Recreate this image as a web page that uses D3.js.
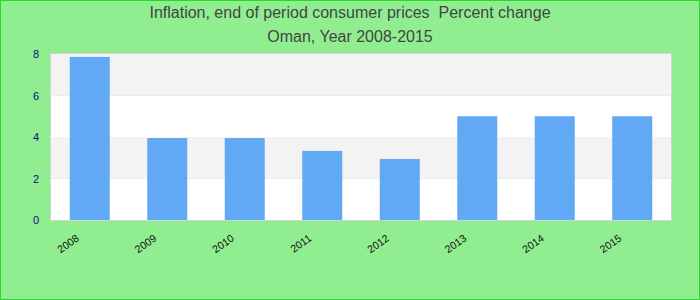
<!DOCTYPE html>
<html>
<head>
<meta charset="utf-8">
<script src="https://cdn.jsdelivr.net/npm/d3@7"></script>
<style>
  body { margin: 0; }
  svg { display: block; font-family: "Liberation Sans", Arial, sans-serif; }
</style>
</head>
<body>
<svg id="graph" width="700" height="300"></svg>
<script>
const years = ["2008", "2009", "2010", "2011", "2012", "2013", "2014", "2015"];
const values = [7.86, 3.95, 3.95, 3.33, 2.94, 5.0, 5.0, 5.0];
const yTicks = [0, 2, 4, 6, 8];
const titleLines = ["Inflation, end of period consumer prices  Percent change", "Oman, Year 2008-2015"];

const width = 700;
const height = 300;
const margin = { top: 54, right: 29, bottom: 80, left: 51 };

const svg = d3.select("#graph");

svg.append("rect")
  .attr("x", 0.5).attr("y", 0.5)
  .attr("width", width - 1).attr("height", height - 1)
  .attr("fill", "#90ee90")
  .attr("stroke", "#22dd22");

const x = d3.scaleBand()
  .domain(years)
  .range([margin.left, width - margin.right])
  .paddingInner(0.484)
  .paddingOuter(0.242);

const y = d3.scaleLinear()
  .domain([0, 8])
  .range([height - margin.bottom, margin.top]);

// plot background with alternating bands
const bands = d3.pairs(yTicks);
svg.append("g")
  .selectAll("rect")
  .data(bands)
  .join("rect")
  .attr("x", margin.left)
  .attr("width", width - margin.right - margin.left)
  .attr("y", (d) => y(d[1]))
  .attr("height", (d) => y(d[0]) - y(d[1]))
  .attr("fill", (d, i) => (i % 2 ? "#f3f3f3" : "#ffffff"));

svg.append("g")
  .selectAll("rect")
  .data(values)
  .join("rect")
  .attr("fill", "#61a9f5")
  .attr("x", (d, i) => x(years[i]))
  .attr("y", (d) => y(d))
  .attr("width", x.bandwidth())
  .attr("height", (d) => y(0) - y(d));

svg.append("rect")
  .attr("x", margin.left - 0.5)
  .attr("y", margin.top - 0.5)
  .attr("width", width - margin.right - margin.left + 1)
  .attr("height", height - margin.bottom - margin.top + 1)
  .attr("fill", "none")
  .attr("stroke", "#d3d3d3");

// y axis
svg.append("g")
  .attr("transform", `translate(${margin.left},0)`)
  .call(d3.axisLeft(y).tickValues(yTicks).tickSize(0).tickPadding(12))
  .call((g) => g.select(".domain").remove())
  .call((g) => g.selectAll("text")
    .attr("fill", "#0a0a8c")
    .attr("font-size", 11)
    .attr("font-family", "Liberation Sans, Arial, sans-serif"));

// x axis
svg.append("g")
  .attr("transform", `translate(0,${height - margin.bottom})`)
  .call(d3.axisBottom(x).tickSize(0).tickFormat((d) => d))
  .call((g) => g.select(".domain").remove())
  .call((g) => g.selectAll("text")
    .attr("fill", "#111")
    .attr("font-size", 10.5)
    .attr("font-family", "Liberation Sans, Arial, sans-serif")
    .attr("text-anchor", "end")
    .attr("y", 0)
    .attr("dy", 0)
    .attr("transform", "translate(-10,20) rotate(-35)"));

// title
svg.append("g")
  .selectAll("text")
  .data(titleLines)
  .join("text")
  .attr("x", width / 2)
  .attr("y", (d, i) => 18 + i * 24)
  .attr("text-anchor", "middle")
  .attr("font-size", 16)
  .attr("fill", "#444")
  .style("white-space", "pre")
  .text((d) => d);
</script>
</body>
</html>
